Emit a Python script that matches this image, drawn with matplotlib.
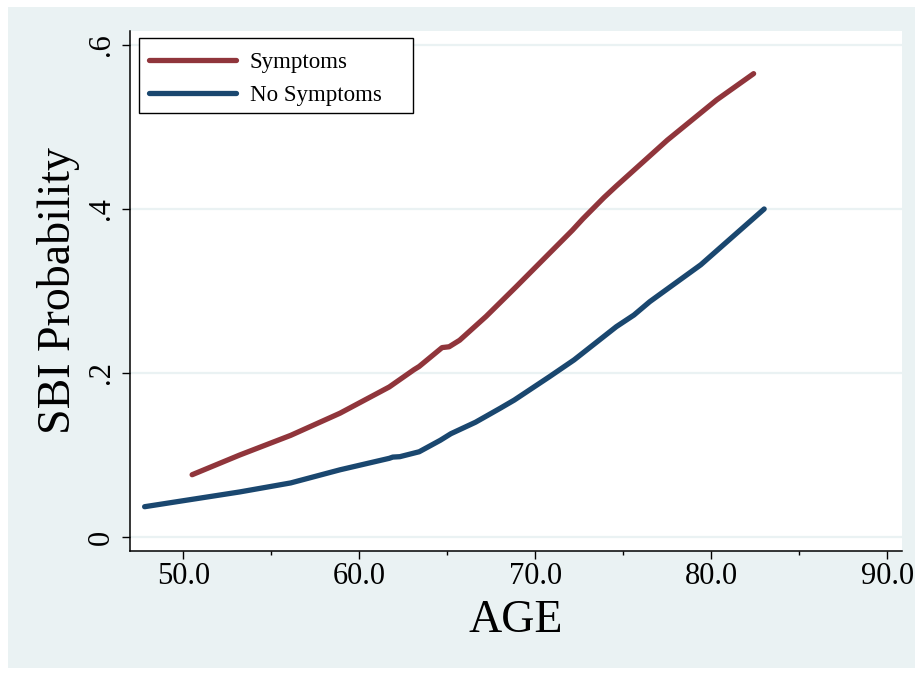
import matplotlib
matplotlib.use("Agg")
import matplotlib.pyplot as plt
from matplotlib.patches import Rectangle

plt.rcParams['font.family'] = ['Liberation Serif', 'DejaVu Serif']

# Data
age_symptoms = [50.5, 53.2, 56.1, 58.9, 61.7, 62.3, 63.1, 63.4, 64.7, 65.1, 65.7,
                67.2, 68.9, 70.8, 72.1, 72.7, 73.9, 74.6, 77.5, 80.3, 82.4]
prob_symptoms = [0.076, 0.100, 0.124, 0.151, 0.183, 0.192, 0.204, 0.208, 0.231, 0.232, 0.240,
                 0.269, 0.305, 0.346, 0.374, 0.388, 0.414, 0.428, 0.484, 0.533, 0.565]

age_nosymptoms = [47.8, 53.2, 56.1, 58.9, 61.7, 61.9, 62.3, 63.4, 64.6, 65.2, 66.6, 68.0,
                  68.8, 70.8, 72.2, 74.6, 75.6, 76.5, 79.4, 83.0]
prob_nosymptoms = [0.037, 0.055, 0.066, 0.082, 0.096, 0.0975, 0.098, 0.104, 0.118, 0.126, 0.140, 0.157,
                   0.167, 0.1955, 0.216, 0.2565, 0.2707, 0.287, 0.332, 0.400]

series_labels = ["Symptoms", "No Symptoms"]
xticks = [50, 60, 70, 80, 90]
xticklabels = ["50.0", "60.0", "70.0", "80.0", "90.0"]
xminor = [55, 65, 75, 85]
yticks = [0, 0.2, 0.4, 0.6]
yticklabels = ["0", ".2", ".4", ".6"]

W, H = 917, 673
fig = plt.figure(figsize=(W / 100, H / 100), dpi=100, facecolor="white")
bg = "#EAF2F3"
fig.patches.append(Rectangle((8 / W, 5 / H), (915 - 8) / W, (668 - 7) / H,
                             transform=fig.transFigure, facecolor=bg, edgecolor="none", zorder=-10))

ax = fig.add_axes([130 / W, (H - 551) / H, (902 - 130) / W, (551 - 31) / H])
ax.set_zorder(1)
ax.set_facecolor("white")

red = "#90353B"
navy = "#1A476F"
ax.plot(age_symptoms, prob_symptoms, color=red, lw=3.8, solid_capstyle="round",
        solid_joinstyle="round", label=series_labels[0], zorder=3)
ax.plot(age_nosymptoms, prob_nosymptoms, color=navy, lw=3.8, solid_capstyle="round",
        solid_joinstyle="round", label=series_labels[1], zorder=3)

ax.set_xlim(46.97, 90.83)
ax.set_ylim(-0.017, 0.617)

ax.set_xticks(xticks)
ax.set_xticklabels(xticklabels, fontsize=22)
ax.set_xticks(xminor, minor=True)
ax.set_yticks(yticks)
ax.set_yticklabels(yticklabels, fontsize=22, rotation=90, va="center")
ax.tick_params(axis="x", which="major", length=6, width=1, pad=2, color="black")
ax.tick_params(axis="x", which="minor", length=3, width=1, color="black")
ax.tick_params(axis="y", which="major", length=6, width=1, pad=4, color="black")

for y in yticks:
    ax.axhline(y, color=bg, lw=1.6, zorder=1)

for s in ["top", "right"]:
    ax.spines[s].set_visible(False)
for s in ["left", "bottom"]:
    ax.spines[s].set_linewidth(1.1)
    ax.spines[s].set_color("black")

ax.set_xlabel("AGE", fontsize=33, labelpad=6)
ax.set_ylabel("SBI Probability", fontsize=33, labelpad=5)

# legend frame
x0 = (139 - 130) / 772
y1 = (551 - 38) / 520
y0 = (551 - 113) / 520
x1 = (413 - 130) / 772
ax.add_patch(Rectangle((x0, y0), x1 - x0, y1 - y0, transform=ax.transAxes,
                       facecolor="white", edgecolor="black", lw=1.0, zorder=4))
leg = ax.legend(loc="upper left", bbox_to_anchor=((149 - 130) / 772, (551 - 52) / 520),
                frameon=False, fontsize=16.5, handlelength=3.8, handletextpad=0.6,
                labelspacing=0.5, borderpad=0, borderaxespad=0)
leg.set_zorder(5)

fig.savefig("out.png", dpi=100, facecolor="white")
